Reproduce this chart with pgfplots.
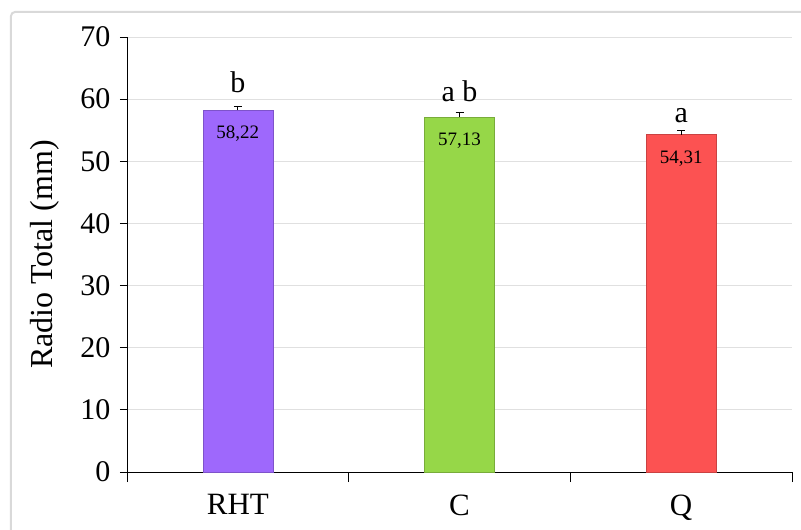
\documentclass[border=0pt]{standalone}
\usepackage{pgfplots}
\pgfplotsset{compat=1.18}
\usepackage{fontspec}
\setmainfont{Liberation Serif}
\definecolor{cpurple}{RGB}{158,104,252}
\definecolor{cgreen}{RGB}{150,215,72}
\definecolor{cred}{RGB}{252,82,82}
\begin{document}
\begin{tikzpicture}
\useasboundingbox (-127pt,-58pt) rectangle (674pt,472pt);
\draw[black!15, line width=2pt, rounded corners=4pt] (-116pt,-80pt) rectangle (690pt,460pt);
\begin{axis}[
  scale only axis,
  width=665pt, height=435pt,
  at={(0pt,0pt)}, anchor=south west,
  xmin=-0.5, xmax=2.5,
  ymin=0, ymax=70,
  ytick={0,10,...,70},
  xtick={0,1,2},
  xticklabels={RHT,C,Q},
  extra x ticks={-0.5,0.5,1.5,2.5},
  extra x tick labels={},
  extra x tick style={xtick style={draw=black, line width=0.8pt}, major tick length=10pt},
  axis lines*=left,
  axis line style={black, line width=0.8pt},
  major tick length=7pt,
  xtick style={draw=none},
  ytick style={black, line width=0.8pt},
  tick align=outside,
  ymajorgrids,
  grid style={black!12, line width=0.8pt},
  yticklabel style={font=\fontsize{30}{34}\selectfont, xshift=-6pt},
  xticklabel style={font=\fontsize{31}{34}\selectfont, yshift=-12pt},
  /pgf/number format/assume math mode=true,
  ylabel={Radio Total (mm)},
  every axis y label/.style={at={(axis description cs:-0.1233,0.5)}, rotate=90, anchor=center, font=\fontsize{32}{36}\selectfont},
  ybar, bar width=70pt, bar shift=0pt,
  clip=false,
]
\addplot[draw=cpurple!80!black, fill=cpurple, error bars/.cd, y dir=plus, y explicit, error bar style={black, line width=0.7pt}, error mark options={rotate=90, mark size=4pt, black}] coordinates {(0,58.22) +- (0,0.7)};
\addplot[draw=cgreen!80!black, fill=cgreen, error bars/.cd, y dir=plus, y explicit, error bar style={black, line width=0.7pt}, error mark options={rotate=90, mark size=4pt, black}] coordinates {(1,57.13) +- (0,0.7)};
\addplot[draw=cred!80!black, fill=cred, error bars/.cd, y dir=plus, y explicit, error bar style={black, line width=0.7pt}, error mark options={rotate=90, mark size=4pt, black}] coordinates {(2,54.31) +- (0,0.7)};
\node[anchor=base, font=\fontsize{19}{22}\selectfont] at (axis cs:0,53.6) {58,22};
\node[anchor=base, font=\fontsize{19}{22}\selectfont] at (axis cs:1,52.5) {57,13};
\node[anchor=base, font=\fontsize{19}{22}\selectfont] at (axis cs:2,49.7) {54,31};
\node[anchor=base, font=\fontsize{30}{34}\selectfont] at (axis cs:0,61.1) {b};
\node[anchor=base, font=\fontsize{30}{34}\selectfont] at (axis cs:1,59.7) {a b};
\node[anchor=base, font=\fontsize{30}{34}\selectfont] at (axis cs:2,56.3) {a};
\end{axis}
\end{tikzpicture}
\end{document}
